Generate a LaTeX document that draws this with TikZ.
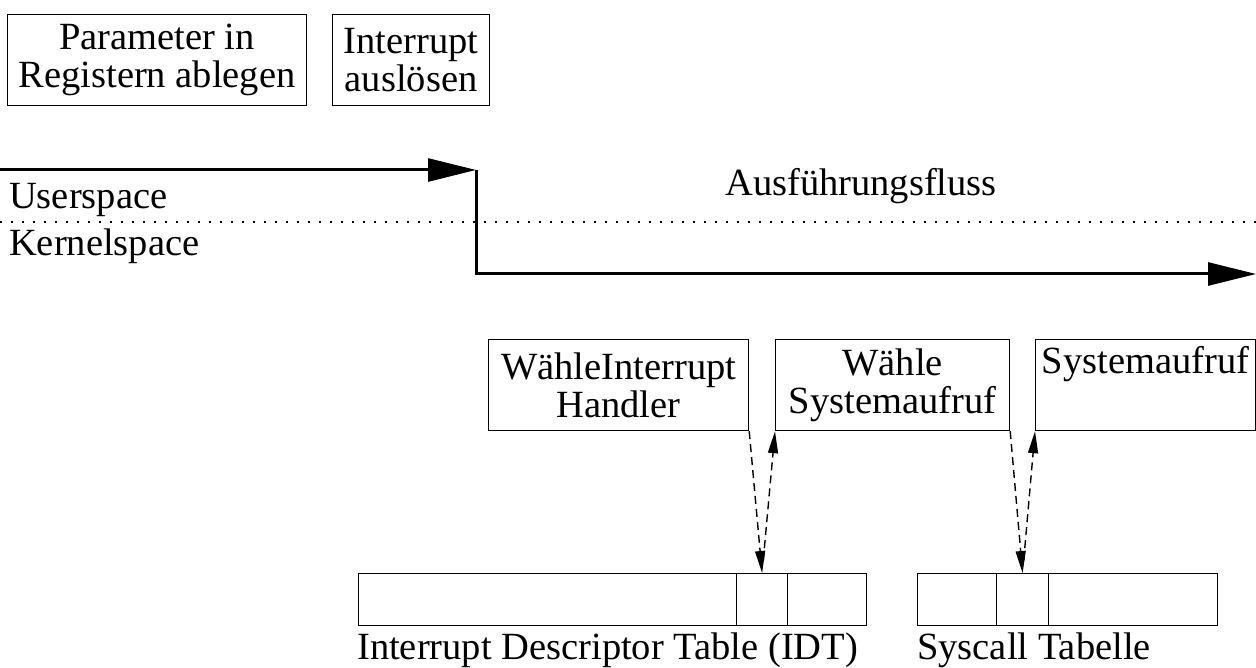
\documentclass[tikz,border=0pt]{standalone}
\usepackage{fontspec}
\setmainfont{Liberation Serif}
\usetikzlibrary{arrows.meta}

\begin{document}
\begin{tikzpicture}[x=1pt,y=-1pt,>={Triangle[length=48pt,width=23pt]},font=\fontsize{38.5}{38}\selectfont,
    box/.style={draw,line width=1.2pt,inner sep=0pt,align=center,anchor=north west,minimum height=91pt},
    cell/.style={draw,line width=1.2pt,inner sep=0pt,anchor=north west,minimum height=52pt},
    label/.style={inner sep=0pt,anchor=base west},
    flow/.style={line width=3pt},
    ptr/.style={line width=1.4pt,dash pattern=on 8pt off 5pt,-{Triangle[length=22pt,width=10pt]}}]

            \useasboundingbox (0,0) rectangle (1256,668);

            \node[box, minimum width=299pt] (1) at (7,14) {Parameter in\\Registern ablegen};
            \node[box, minimum width=157pt] (2) at (332,14) {Interrupt\\auslösen};
            \node[box, minimum width=260pt] (3) at (488,339) {WähleInterrupt\\Handler};
            \node[box, minimum width=234pt] (4) at (775,339) {Wähle\\Systemaufruf};
            \node[box, minimum width=220pt] (5) at (1035,339) {Systemaufruf\\\strut};

            \node[cell, minimum width=378pt] (6) at (358,573) {};
            \node[cell, minimum width=51pt] (7) at (736,573) {};
            \node[cell, minimum width=79pt] (8) at (787,573) {};
            \node[cell, minimum width=79pt] (9) at (917,573) {};
            \node[cell, minimum width=52pt] (10) at (996,573) {};
            \node[cell, minimum width=169pt] (11) at (1048,573) {};

            \node[label] (u) at (9,209) {Userspace};
            \node[label] (k) at (9,256) {Kernelspace};
            \node[label] (f) at (725,196) {Ausführungsfluss};
            \node[label] (idt) at (357,659) {Interrupt Descriptor Table (IDT)};
            \node[label] (sys) at (917,659) {Syscall Tabelle};

            \coordinate (a) at (0,170);
            \coordinate (b) at (476,170);
            \coordinate (c) at (476,274);
            \coordinate (d) at (1256,274);
            \coordinate (l) at (0,222);
            \coordinate (r) at (1256,222);

            \draw[flow,->] (a) to (b);
            \draw[flow,->] (b) -- (c) -- (d);
            \draw[line width=1.5pt,dash pattern=on 1.5pt off 9.5pt] (l) -- (r);

            \draw[ptr] (3.south east) to (7.north);
            \draw[ptr,shorten <=12pt] (7.north) to (4.south west);
            \draw[ptr] (4.south east) to (10.north);
            \draw[ptr,shorten <=12pt] (10.north) to (5.south west);

            ;
        \end{tikzpicture}
\end{document}
